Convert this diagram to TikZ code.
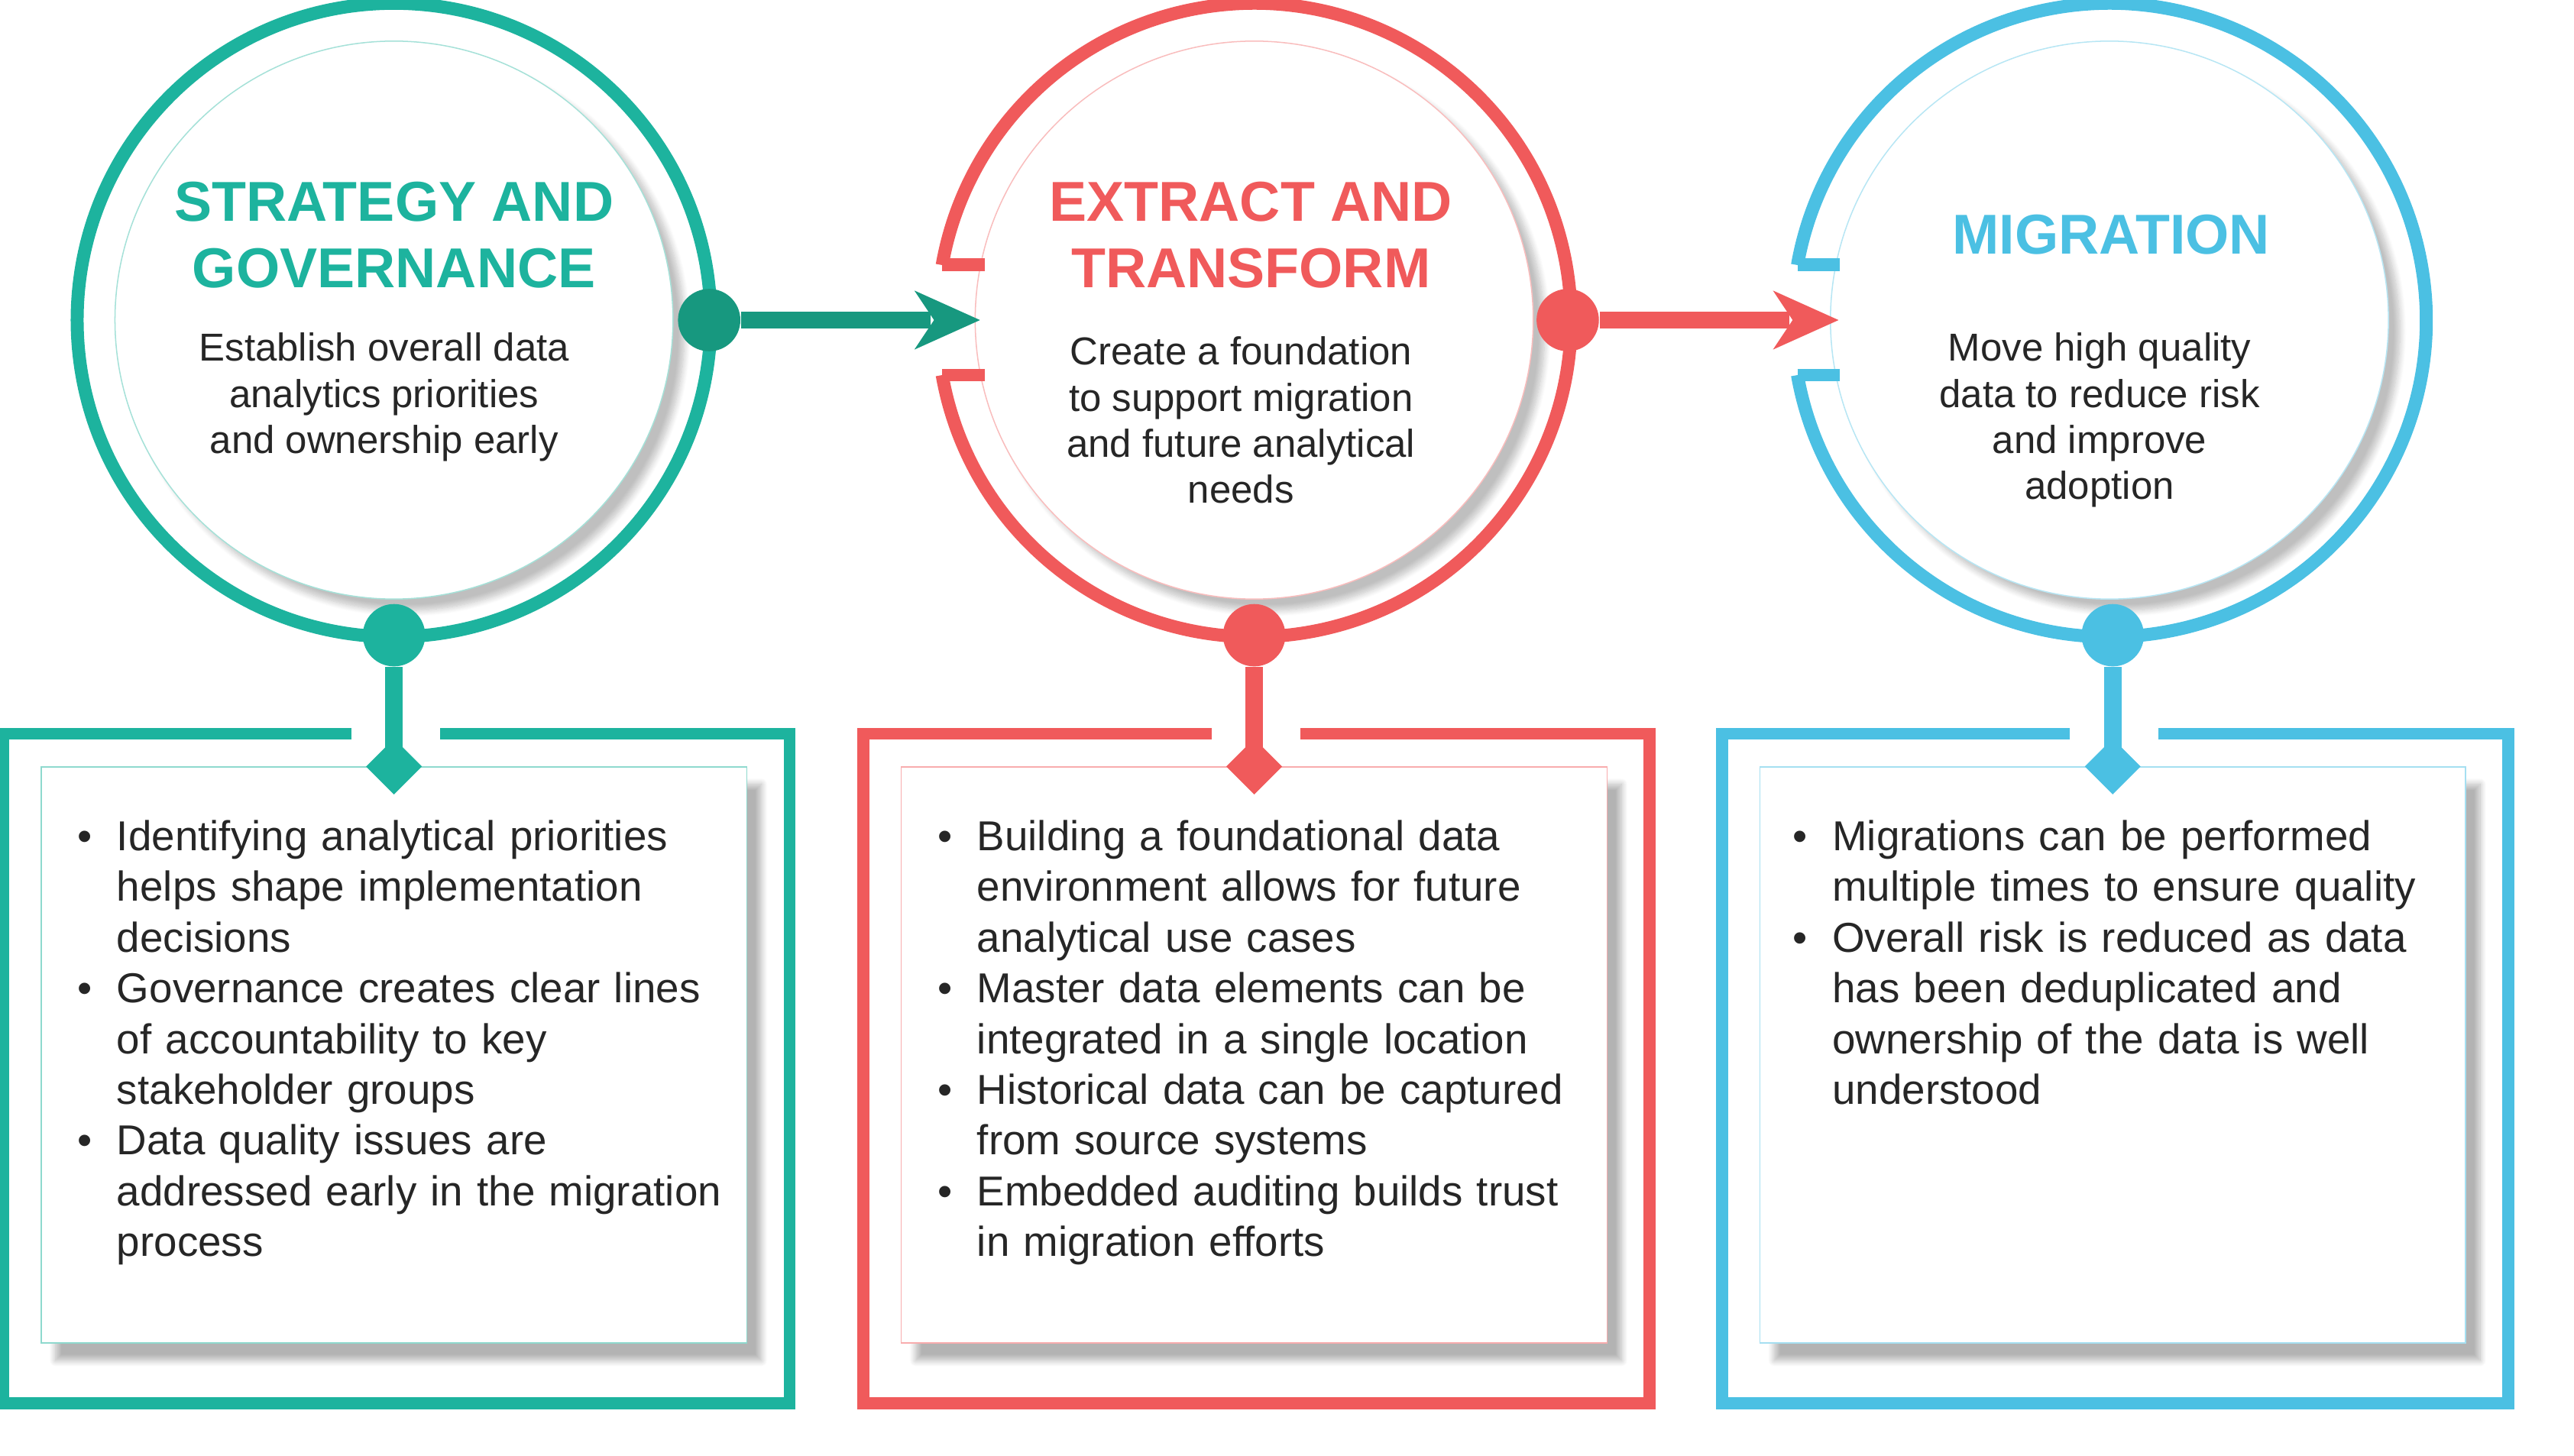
\documentclass[tikz,border=0pt]{standalone}
\usepackage{fontspec}
\setmainfont{Liberation Sans}
\usepackage{enumitem}
\usetikzlibrary{positioning, calc, shadows.blur}

\definecolor{tealc}{HTML}{1DB39E}
\definecolor{tealdark}{HTML}{17987F}
\definecolor{redc}{HTML}{F05A5B}
\definecolor{bluec}{HTML}{4BC0E3}

\tikzset{
    ring/.style={line width=4.5pt},
    innerdisc/.style={circle, fill=white, minimum size=6.8cm, blur shadow={shadow xshift=4pt, shadow yshift=-4pt, shadow blur steps=10, shadow opacity=25}},
    title/.style={font=\fontsize{19.5}{23}\selectfont\bfseries, align=center},
    blurb/.style={font=\fontsize{13.5}{16}\selectfont, align=center, text=black!85},
    panel/.style={fill=white, blur shadow={shadow xshift=5pt, shadow yshift=-6pt, shadow blur steps=10, shadow opacity=30}},
    dot/.style={circle, inner sep=0pt, minimum size=0.76cm},
    outline/.style={line width=4.2pt},
    bullets/.style={anchor=north west, text width=8.1cm, font=\fontsize{14.5}{17.6}\selectfont, text=black!85}
}
\newcommand{\bulletlist}[1]{\begin{itemize}[leftmargin=0.5cm, labelsep=0.3cm, itemsep=0pt, topsep=0pt, parsep=0pt]#1\end{itemize}}

\begin{document}
\begin{tikzpicture}[x=0.02cm, y=-0.02cm]
    \useasboundingbox (0,0) rectangle (1568,887);

    % Circles
    \node[innerdisc, draw=tealc!40, line width=0.4pt] (c1) at (240,195) {};
    \node[innerdisc, draw=redc!40, line width=0.4pt] (c2) at (764,195) {};
    \node[innerdisc, draw=bluec!40, line width=0.4pt] (c3) at (1285,195) {};
    \draw[ring, tealc] (c1.center) circle (193);
    \draw[ring, redc] ($(c2.center)+(170:193)$) arc (170:-170:193);
    \draw[ring, bluec] ($(c3.center)+(170:193)$) arc (170:-170:193);
    \draw[ring, redc] ($(c2.center)+(170:193)$) -- ++(26,0);
    \draw[ring, redc] ($(c2.center)+(-170:193)$) -- ++(26,0);
    \draw[ring, bluec] ($(c3.center)+(170:193)$) -- ++(26,0);
    \draw[ring, bluec] ($(c3.center)+(-170:193)$) -- ++(26,0);

    % Texts in circles
    \node[title, text=tealc] (t1) at (240,143) {STRATEGY AND\\GOVERNANCE};
    \node[blurb] (b1) at (234,242) {Establish overall data\\analytics priorities\\and ownership early};
    \node[title, text=redc] (t2) at (762,143) {EXTRACT AND\\TRANSFORM};
    \node[blurb] (b2) at (756,256) {Create a foundation\\to support migration\\and future analytical\\needs};
    \node[title, text=bluec] (t3) at (1286,143) {MIGRATION};
    \node[blurb] (b3) at (1279,256) {Move high quality\\data to reduce risk\\and improve\\adoption};

    % Arrows between circles
    \node[dot, fill=tealdark] (d1) at (432,195) {};
    \coordinate (a1) at (597,195);
    \draw[tealdark, line width=6pt] (d1) -- ($(a1)+(-30,0)$);
    \fill[tealdark] (a1) -- ++(-40,-18) -- ++(12,18) -- ++(-12,18) -- cycle;
    \node[dot, fill=redc] (d2) at (955,195) {};
    \coordinate (a2) at (1120,195);
    \draw[redc, line width=6pt] (d2) -- ($(a2)+(-30,0)$);
    \fill[redc] (a2) -- ++(-40,-18) -- ++(12,18) -- ++(-12,18) -- cycle;

    % Panels
    \foreach \x/\col/\n in {240/tealc/1, 764/redc/2, 1287/bluec/3} {
        \draw[outline, \col] (\x-26,447) -- (\x-238,447) -- (\x-238,855) -- (\x+241,855) -- (\x+241,447) -- (\x+28,447);
        \node[panel, draw=\col!50, line width=0.4pt, minimum width=8.6cm, minimum height=7.02cm, anchor=north] (p\n) at (\x,467) {};
        \node[dot, fill=\col] (s\n) at (\x,387) {};
        \coordinate (k\n) at (\x,467);
        \draw[\col, line width=6pt] (s\n) -- (k\n);
        \fill[\col] (k\n) ++(0,-17) -- ++(17,17) -- ++(-17,17) -- ++(-17,-17) -- cycle;
    }

    % Bullet texts
    \node[bullets] (l1) at (40,481) {\bulletlist{
        \item Identifying analytical priorities helps shape implementation decisions
        \item Governance creates clear lines of accountability to key stakeholder groups
        \item Data quality issues are addressed early in the migration process}};
    \node[bullets] (l2) at (564,481) {\bulletlist{
        \item Building a foundational data environment allows for future analytical use cases
        \item Master data elements can be integrated in a single location
        \item Historical data can be captured from source systems
        \item Embedded auditing builds trust in migration efforts}};
    \node[bullets] (l3) at (1085,481) {\bulletlist{
        \item Migrations can be performed multiple times to ensure quality
        \item Overall risk is reduced as data has been deduplicated and ownership of the data is well understood}};
\end{tikzpicture}
\end{document}
